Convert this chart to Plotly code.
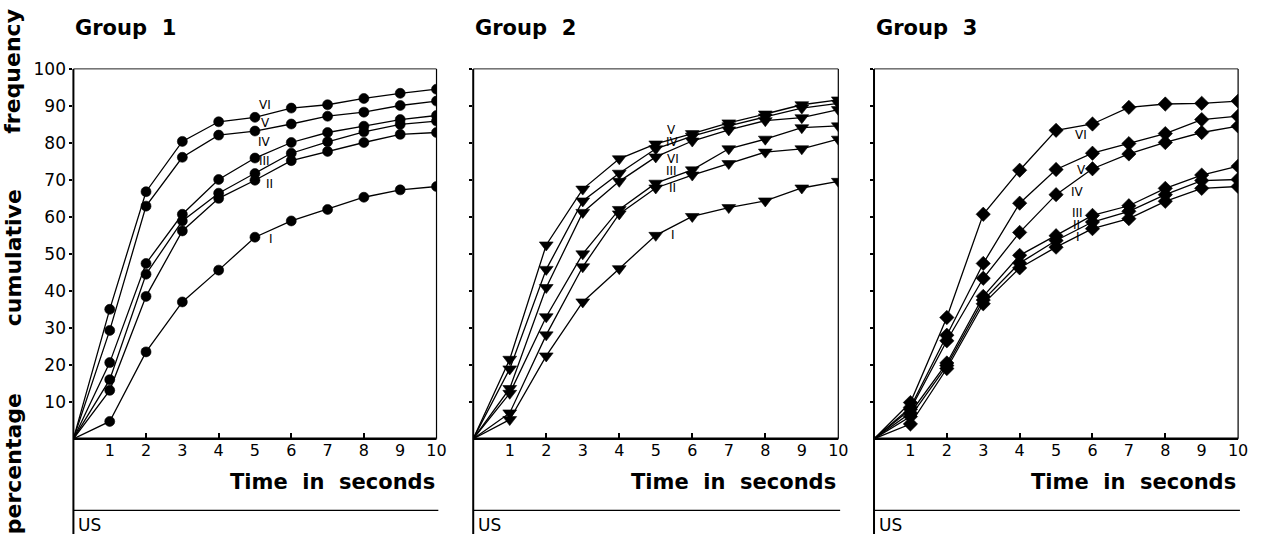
import plotly.graph_objects as go

# ---------------- data ----------------
TIME = [0, 1, 2, 3, 4, 5, 6, 7, 8, 9, 10]
X_TICKS = [1, 2, 3, 4, 5, 6, 7, 8, 9, 10]
Y_TICKS = [10, 20, 30, 40, 50, 60, 70, 80, 90, 100]
SERIES = ["I", "II", "III", "IV", "V", "VI"]
GROUPS = ["Group 1", "Group 2", "Group 3"]

# Group 1 (circles)
g1_I   = [0, 4.7, 23.5, 37.0, 45.6, 54.5, 58.9, 62.0, 65.3, 67.3, 68.2]
g1_II  = [0, 13.1, 38.5, 56.2, 65.0, 69.9, 75.2, 77.7, 80.1, 82.3, 82.8]
g1_III = [0, 16.0, 44.5, 58.9, 66.4, 71.7, 77.2, 80.3, 83.0, 85.0, 85.9]
g1_IV  = [0, 20.6, 47.4, 60.7, 70.1, 75.9, 80.1, 82.8, 84.5, 86.3, 87.4]
g1_V   = [0, 29.3, 62.9, 76.1, 82.1, 83.2, 85.1, 87.2, 88.3, 90.1, 91.3]
g1_VI  = [0, 35.0, 66.8, 80.4, 85.7, 86.9, 89.4, 90.3, 92.0, 93.4, 94.5]

# Group 2 (down triangles)
g2_I   = [0, 5.2, 22.4, 37.0, 46.0, 55.0, 60.1, 62.5, 64.3, 67.8, 69.6]
g2_II  = [0, 7.0, 28.1, 46.5, 60.8, 67.8, 71.3, 74.4, 77.5, 78.4, 81.0]
g2_III = [0, 12.3, 33.0, 50.0, 62.0, 69.1, 72.7, 78.4, 81.0, 84.1, 84.6]
g2_IV  = [0, 18.9, 45.8, 64.3, 71.8, 78.4, 81.8, 84.6, 87.0, 89.4, 90.7]
g2_V   = [0, 21.5, 52.4, 67.5, 75.7, 79.7, 82.5, 85.4, 87.8, 90.3, 91.6]
g2_VI  = [0, 13.6, 40.9, 61.2, 69.6, 76.2, 80.5, 83.5, 86.0, 86.8, 89.0]

# Group 3 (diamonds)
g3_I   = [0, 4.0, 19.0, 36.5, 46.2, 51.8, 56.8, 59.5, 64.2, 67.7, 68.2]
g3_II  = [0, 6.0, 19.8, 37.5, 47.5, 53.6, 58.6, 61.5, 66.0, 69.8, 70.1]
g3_III = [0, 7.0, 20.5, 38.5, 49.6, 54.9, 60.4, 63.0, 67.7, 71.3, 73.7]
g3_IV  = [0, 8.0, 26.5, 43.4, 55.8, 66.0, 73.0, 77.0, 80.1, 82.8, 84.5]
g3_V   = [0, 8.5, 28.0, 47.4, 63.7, 72.8, 77.2, 79.8, 82.5, 86.3, 87.2]
g3_VI  = [0, 9.8, 32.8, 60.7, 72.6, 83.4, 85.1, 89.6, 90.5, 90.7, 91.3]

DATA = [
    [g1_I, g1_II, g1_III, g1_IV, g1_V, g1_VI],
    [g2_I, g2_II, g2_III, g2_IV, g2_V, g2_VI],
    [g3_I, g3_II, g3_III, g3_IV, g3_V, g3_VI],
]

# ---------------- layout helpers ----------------
W, H = 1262, 534
SYMBOLS = ["circle", "triangle-down", "diamond"]
MSIZES = [10, 12, 11]
X_DOMAINS = [[74 / W, 440 / W], [477 / W, 845 / W], [881 / W, 1248 / W]]
Y_DOMAIN = [1 - 437 / H, 1 - 60 / H]

# label positions (data coords) for roman numerals, per panel
LABEL_POS = [
    {"I": (5.44, 54.1), "II": (5.41, 69.0), "III": (5.27, 75.1),
     "IV": (5.27, 80.1), "V": (5.3, 85.4), "VI": (5.27, 90.2)},
    {"I": (5.46, 55.0), "II": (5.46, 67.8), "III": (5.43, 72.5),
     "IV": (5.46, 80.2), "V": (5.43, 83.6), "VI": (5.46, 75.7)},
    {"I": (5.6, 54.6), "II": (5.56, 57.8), "III": (5.6, 61.0),
     "IV": (5.6, 66.6), "V": (5.69, 72.6), "VI": (5.69, 82.1)},
]

FONT = "DejaVu Sans"
NB = "\u00a0"
fig = go.Figure()
shapes = []
annotations = []

for p in range(3):
    sfx = "" if p == 0 else str(p + 1)
    xa, ya = "x" + sfx, "y" + sfx
    for name, vals in zip(SERIES, DATA[p]):
        fig.add_trace(go.Scatter(
            x=TIME, y=vals, mode="lines+markers",
            line=dict(color="black", width=1.3),
            marker=dict(symbol=SYMBOLS[p], color="black", opacity=1,
                        line=dict(color="black", width=0.6),
                        size=[0] + [MSIZES[p]] * (len(TIME) - 1)),
            xaxis=xa, yaxis=ya, showlegend=False, hoverinfo="skip",
            name=name,
        ))
    # overlay axis used only for the small inside ticks at even seconds
    ov = str(p + 4)
    fig.add_trace(go.Scatter(x=[None], y=[None], xaxis="x" + ov, yaxis=ya,
                             showlegend=False, hoverinfo="skip"))
    fig.layout["xaxis" + sfx] = dict(
        domain=X_DOMAINS[p], range=[0, 10], anchor=ya,
        tickvals=X_TICKS, ticktext=[str(v) for v in X_TICKS], ticks="",
        tickfont=dict(family=FONT, size=16, color="black"),
        showgrid=False, zeroline=False, showline=False, fixedrange=True,
    )
    fig.layout["xaxis" + ov] = dict(
        overlaying=xa, range=[0, 10], anchor=ya,
        tickvals=[2, 4, 6, 8], ticks="inside", ticklen=6, tickwidth=1.5,
        tickcolor="black", showticklabels=False,
        showgrid=False, zeroline=False, showline=False, fixedrange=True,
    )
    fig.layout["yaxis" + sfx] = dict(
        domain=Y_DOMAIN, range=[0, 100], anchor=xa,
        tickvals=Y_TICKS, ticktext=[str(v) for v in Y_TICKS],
        ticks="outside", ticklen=3, tickwidth=1.5, tickcolor="black",
        showticklabels=(p == 0),
        tickfont=dict(family=FONT, size=17, color="black"),
        showgrid=False, zeroline=False, showline=False, fixedrange=True,
    )
    xd = xa + " domain"
    yd = ya + " domain"
    # frame
    shapes += [
        dict(type="line", xref=xd, yref="paper", x0=0, x1=0, y0=0, y1=Y_DOMAIN[1],
             line=dict(color="black", width=2)),
        dict(type="line", xref=xd, yref=yd, x0=0, x1=1, y0=0, y1=0,
             line=dict(color="black", width=2.5)),
        dict(type="line", xref=xd, yref=yd, x0=0, x1=1, y0=1, y1=1,
             line=dict(color="#222", width=1)),
        dict(type="line", xref=xd, yref=yd, x0=1, x1=1, y0=0, y1=1,
             line=dict(color="black", width=1.2)),
        dict(type="line", xref=xd, yref="paper", x0=0, x1=1.005,
             y0=1 - 510 / H, y1=1 - 510 / H, line=dict(color="black", width=1.2)),
    ]
    annotations += [
        dict(text="<b>" + GROUPS[p].replace(" ", NB + NB) + "</b>", xref=xd,
             yref="paper", x=0, y=1 - 18 / H,
             xanchor="left", yanchor="middle", showarrow=False,
             font=dict(family=FONT, size=21, color="black")),
        dict(text="<b>Time" + NB * 2 + "in" + NB * 2 + "seconds</b>", xref=xd,
             yref="paper", x=1, y=1 - 481 / H,
             xanchor="right", yanchor="middle", showarrow=False,
             font=dict(family=FONT, size=21, color="black")),
        dict(text="US", xref=xd, yref="paper", x=0, xshift=3, y=1 - 525 / H,
             xanchor="left", yanchor="middle", showarrow=False,
             font=dict(family=FONT, size=17, color="black")),
    ]
    for name in SERIES:
        lx, ly = LABEL_POS[p][name]
        annotations.append(dict(
            text=name, xref=xa, yref=ya, x=lx, y=ly, xanchor="center",
            yanchor="middle", showarrow=False,
            font=dict(family=FONT, size=12, color="black")))

# vertical y-axis title, word by word
for word, cy in [("frequency", 62), ("cumulative", 252), ("percentage", 462)]:
    annotations.append(dict(
        text="<b>" + word + "</b>", xref="paper", yref="paper",
        x=13 / W, y=1 - cy / H, xanchor="center", yanchor="middle",
        textangle=-90, showarrow=False,
        font=dict(family=FONT, size=22, color="black")))

fig.update_layout(
    width=W, height=H, margin=dict(l=0, r=0, t=0, b=0),
    paper_bgcolor="white", plot_bgcolor="white",
    shapes=shapes, annotations=annotations, showlegend=False,
)

fig.write_html("out.html")
